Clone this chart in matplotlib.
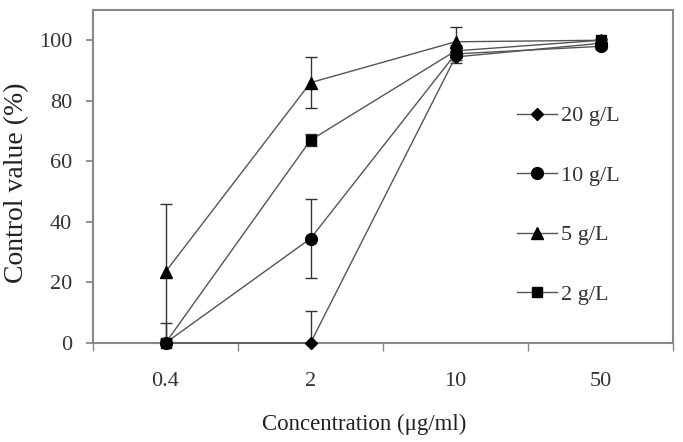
import matplotlib
matplotlib.use("Agg")
import matplotlib.pyplot as plt
import numpy as np

plt.rcParams['font.family'] = ['Liberation Serif', 'DejaVu Serif']

categories = ["0.4", "2", "10", "50"]
series_names = ["20 g/L", "10 g/L", "5 g/L", "2 g/L"]
vals_20 = [0, 0, 94.5, 99]
vals_10 = [0, 34.5, 95.5, 98]
vals_5 = [23.5, 86, 99.5, 100]
vals_2 = [0, 67, 96.5, 100]
err_20 = [6.5, 10.5, 2, 1]
err_10 = [0, 13, 2, 1]
err_5 = [22.3, 8.5, 5, 0.5]
err_2 = [0, 2, 2, 0.5]
markers = ["D", "o", "^", "s"]
msizes = [6, 8.5, 8.5, 7.5]

fig = plt.figure(figsize=(6.83, 4.42), dpi=100)
ax = fig.add_axes([93/683, 1-343/442, (673-93)/683, (343-10)/442])

x = np.arange(len(categories))
data = [vals_20, vals_10, vals_5, vals_2]
errs = [err_20, err_10, err_5, err_2]
for name, v, e, m, ms in zip(series_names, data, errs, markers, msizes):
    ax.errorbar(x, v, yerr=e, fmt='none', ecolor='#333333', elinewidth=1.0,
                capsize=4, capthick=1.0, clip_on=True, zorder=2)
    ax.plot(x, v, color='#555555', lw=1.0, marker=m, ms=ms,
            mfc='black', mec='black', label=name, clip_on=False, zorder=3)

ax.set_xlim(-0.5, 3.5)
ax.set_ylim(0, 110)
ax.set_yticks([0, 20, 40, 60, 80, 100])
ax.set_xticks(x)
ax.set_xticklabels(categories)
ax.set_xticks(np.arange(-0.5, 3.6, 1), minor=True)
ax.tick_params(axis='x', which='major', length=0, pad=21, labelsize=16, labelcolor='#333333')
ax.tick_params(axis='x', which='minor', length=6, direction='out', color='#888888', width=1)
ax.tick_params(axis='y', length=5, direction='out', color='#888888', width=1.3,
               labelsize=16, labelcolor='#333333', pad=10)
for s in ax.spines.values():
    s.set_color('#888888')
    s.set_linewidth(1.5)

fig.text(364/683, 1-424/442, "Concentration (\u03bcg/ml)", fontsize=16.5, color='#222222',
         ha='center', va='center')
fig.text(17/683, 1-183/442, "Control value (%)", fontsize=20, color='#222222',
         ha='center', va='center', rotation=90)

leg = ax.legend(loc='upper left', bbox_to_anchor=(0.731, 0.712), frameon=False,
                fontsize=16, labelspacing=1.75, handlelength=1.8, handletextpad=0.18,
                borderpad=0, borderaxespad=0, labelcolor='#333333')

fig.savefig("out.png", dpi=100)
